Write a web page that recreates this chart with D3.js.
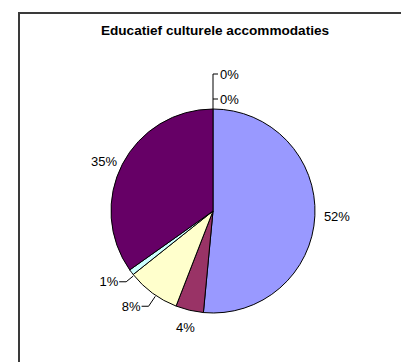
<!DOCTYPE html>
<html>
<head>
<meta charset="utf-8">
<script src="https://cdn.jsdelivr.net/npm/d3@7"></script>
<style>
  body { margin: 0; background: #fff; }
  text { font-family: "Liberation Sans", Arial, sans-serif; fill: #000; }
</style>
</head>
<body>
<script>
var title = "Educatief culturele accommodaties";
var categories = ["a", "b", "c", "d", "e", "f", "g"];
var values = [51.5, 4.4, 8.4, 0.9, 34.8, 0, 0];
var colors = ["#9999FF", "#993366", "#FFFFCC", "#CCFFFF", "#660066", "#FF8080", "#0066CC"];

var width = 401, height = 362;
var cx = 213, cy = 211, r = 102;

var svg = d3.select("body").append("svg")
    .attr("width", width)
    .attr("height", height);

// chart frame (runs off the right and bottom edges)
svg.append("rect")
    .attr("x", 19).attr("y", 13)
    .attr("width", 600).attr("height", 600)
    .attr("fill", "none")
    .attr("stroke", "#3a3a3a")
    .attr("stroke-width", 2);

svg.append("text")
    .attr("x", 215).attr("y", 35)
    .attr("text-anchor", "middle")
    .style("font-size", "13.6px")
    .style("font-weight", "bold")
    .text(title);

var pie = d3.pie().sort(null).value(d => d)(values);
var arc = d3.arc().innerRadius(0).outerRadius(r);

var g = svg.append("g").attr("transform", "translate(" + cx + "," + cy + ")");

g.selectAll("path.slice")
    .data(pie.filter(d => d.value > 0))
    .join("path")
    .attr("class", "slice")
    .attr("d", arc)
    .attr("fill", (d, i) => colors[d.index])
    .attr("stroke", "#000")
    .attr("stroke-width", 1);

function pt(a, rad) {
  return [rad * Math.sin(a), -rad * Math.cos(a)];
}
function label(d) { return Math.round(d.value) + "%"; }

pie.forEach(function (d) {
  var mid = (d.startAngle + d.endAngle) / 2;
  var i = d.index;
  if (d.value === 0) return;
  if (d.value >= 30) {
    // big slices: label outside without leader
    var p = pt(mid, r + (mid > Math.PI ? 6 : 9));
    g.append("text")
      .attr("x", p[0]).attr("y", p[1])
      .attr("dy", "0.35em")
      .attr("text-anchor", mid > Math.PI ? "end" : "start")
      .style("font-size", "13px")
      .text(label(d));
  } else if (i === 1) {
    var p = pt(mid, r + 18);
    g.append("text")
      .attr("x", p[0]).attr("y", p[1])
      .attr("dy", "0.35em")
      .attr("text-anchor", "middle")
      .style("font-size", "13px")
      .text(label(d));
  } else {
    var p1 = pt(mid - 0.04, r + 1), p2 = pt(mid - 0.04, r + (d.value < 2 ? 10 : 13));
    var p3 = [p2[0] - 7, p2[1]];
    g.append("polyline")
      .attr("points", [p1, p2, p3].map(q => q.join(",")).join(" "))
      .attr("fill", "none")
      .attr("stroke", "#000")
      .attr("stroke-width", 1);
    g.append("text")
      .attr("x", p3[0] - 1).attr("y", p3[1])
      .attr("dy", "0.35em")
      .attr("text-anchor", "end")
      .style("font-size", "13px")
      .text(label(d));
  }
});

// zero slices sit at the top; labels stacked above with a shared leader
var zeros = pie.filter(d => d.value === 0);
var topY = -r;
var zy = zeros.map((d, k) => topY - 10 - k * 25);
g.append("line")
  .attr("x1", 0).attr("x2", 0)
  .attr("y1", topY).attr("y2", d3.min(zy))
  .attr("stroke", "#000");
zeros.forEach(function (d, k) {
  g.append("line")
    .attr("x1", 0).attr("x2", 5)
    .attr("y1", zy[k]).attr("y2", zy[k])
    .attr("stroke", "#000");
  g.append("text")
    .attr("x", 7).attr("y", zy[k])
    .attr("dy", "0.35em")
    .style("font-size", "13px")
    .text(label(d));
});
</script>
</body>
</html>
